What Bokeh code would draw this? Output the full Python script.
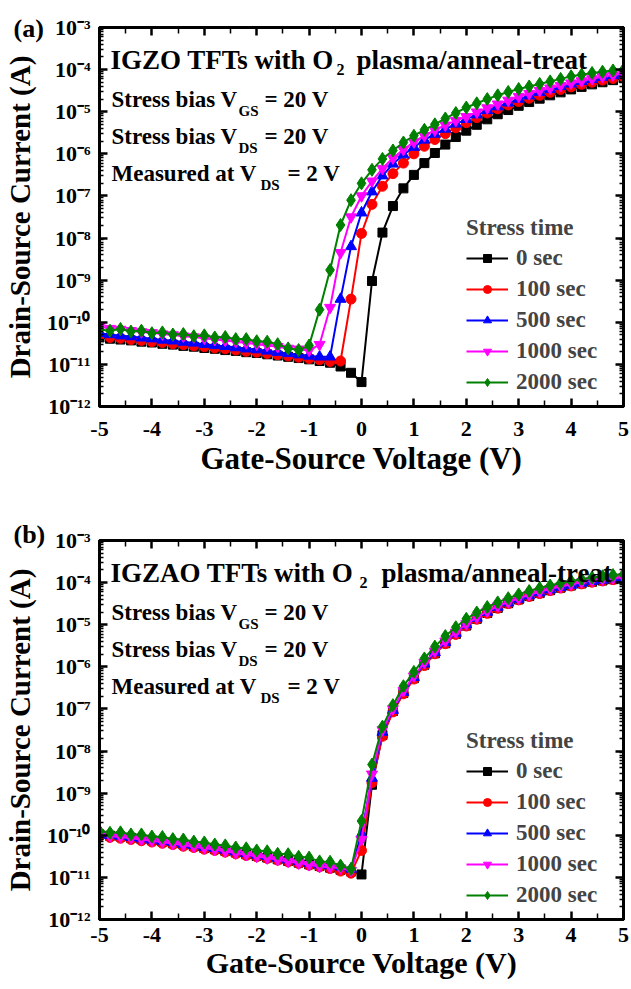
from bokeh.plotting import figure
from bokeh.models import (FixedTicker, LinearAxis, LogAxis, Label, Legend, LegendItem, Range1d,
                          CustomJSTickFormatter)
from bokeh.layouts import column
from bokeh.embed import file_html
from bokeh.resources import INLINE

# ---------------- data ----------------
VGS = [-5.0, -4.8, -4.6, -4.4, -4.2, -4.0, -3.8, -3.6, -3.4, -3.2,
       -3.0, -2.8, -2.6, -2.4, -2.2, -2.0, -1.8, -1.6, -1.4, -1.2,
       -1.0, -0.8, -0.6, -0.4, -0.2, 0.0, 0.2, 0.4, 0.6, 0.8,
       1.0, 1.2, 1.4, 1.6, 1.8, 2.0, 2.2, 2.4, 2.6, 2.8,
       3.0, 3.2, 3.4, 3.6, 3.8, 4.0, 4.2, 4.4, 4.6, 4.8, 5.0]

SERIES_LABELS = ["0 sec", "100 sec", "500 sec", "1000 sec", "2000 sec"]

# (a) IGZO, log10 of drain-source current (A)
igzo_0 = [-10.36, -10.39, -10.41, -10.43, -10.46, -10.48, -10.51, -10.53, -10.56, -10.58,
          -10.61, -10.63, -10.66, -10.68, -10.71, -10.73, -10.76, -10.79, -10.82, -10.85,
          -10.88, -10.92, -10.96, -11.05, -11.20, -11.42, -9.02, -7.87, -7.24, -6.82,
          -6.50, -6.22, -5.98, -5.78, -5.60, -5.45, -5.31, -5.18, -5.06, -4.96,
          -4.86, -4.77, -4.69, -4.61, -4.54, -4.47, -4.41, -4.35, -4.30, -4.25, -4.20]
igzo_100 = [-10.32, -10.36, -10.38, -10.41, -10.43, -10.46, -10.48, -10.51, -10.53, -10.56,
            -10.58, -10.61, -10.63, -10.66, -10.69, -10.71, -10.74, -10.77, -10.80, -10.83,
            -10.86, -10.89, -10.93, -10.92, -9.45, -7.89, -7.20, -6.77, -6.47, -6.22,
            -6.00, -5.82, -5.66, -5.52, -5.38, -5.26, -5.14, -5.03, -4.93, -4.84,
            -4.76, -4.68, -4.61, -4.54, -4.47, -4.41, -4.35, -4.30, -4.25, -4.21, -4.17]
igzo_500 = [-10.26, -10.29, -10.32, -10.34, -10.37, -10.39, -10.42, -10.44, -10.47, -10.49,
            -10.52, -10.55, -10.57, -10.60, -10.63, -10.65, -10.68, -10.71, -10.74, -10.77,
            -10.80, -10.82, -10.82, -9.45, -8.20, -7.40, -6.90, -6.52, -6.24, -6.02,
            -5.84, -5.67, -5.53, -5.41, -5.29, -5.18, -5.07, -4.97, -4.88, -4.79,
            -4.70, -4.62, -4.54, -4.47, -4.40, -4.34, -4.28, -4.23, -4.18, -4.14, -4.10]
igzo_1000 = [-10.10, -10.15, -10.17, -10.20, -10.23, -10.25, -10.28, -10.30, -10.33, -10.35,
             -10.38, -10.41, -10.43, -10.46, -10.49, -10.52, -10.55, -10.58, -10.62, -10.64,
             -10.67, -10.53, -9.65, -8.35, -7.50, -7.00, -6.65, -6.35, -6.10, -5.90,
             -5.72, -5.57, -5.44, -5.32, -5.21, -5.12, -5.01, -4.91, -4.82, -4.73,
             -4.64, -4.57, -4.50, -4.44, -4.38, -4.32, -4.27, -4.22, -4.17, -4.13, -4.09]
igzo_2000 = [-10.17, -10.20, -10.16, -10.22, -10.20, -10.26, -10.24, -10.29, -10.28, -10.33,
             -10.31, -10.36, -10.35, -10.40, -10.40, -10.45, -10.46, -10.52, -10.62, -10.66,
             -10.55, -9.70, -8.76, -7.69, -7.10, -6.70, -6.38, -6.12, -5.92, -5.73,
             -5.57, -5.43, -5.30, -5.16, -5.03, -4.90, -4.80, -4.70, -4.61, -4.53,
             -4.46, -4.40, -4.34, -4.28, -4.22, -4.16, -4.12, -4.08, -4.05, -4.02, -4.00]

# (b) IGZAO, log10 of drain-source current (A)
igzao_0 = [-9.98, -10.01, -10.03, -10.06, -10.09, -10.12, -10.15, -10.19, -10.22, -10.26,
           -10.30, -10.33, -10.37, -10.41, -10.45, -10.49, -10.53, -10.57, -10.61, -10.65,
           -10.69, -10.73, -10.77, -10.82, -10.86, -10.93, -8.80, -7.62, -7.05, -6.62,
           -6.27, -5.95, -5.68, -5.44, -5.22, -5.02, -4.86, -4.72, -4.60, -4.49,
           -4.40, -4.32, -4.25, -4.18, -4.12, -4.07, -4.02, -3.98, -3.95, -3.92, -3.90]
igzao_100 = [-10.02, -10.05, -10.07, -10.10, -10.13, -10.16, -10.19, -10.22, -10.26, -10.29,
             -10.33, -10.36, -10.40, -10.44, -10.48, -10.51, -10.55, -10.59, -10.63, -10.67,
             -10.71, -10.75, -10.79, -10.85, -10.90, -10.36, -8.75, -7.65, -7.07, -6.64,
             -6.29, -5.97, -5.69, -5.45, -5.23, -5.03, -4.87, -4.73, -4.61, -4.50,
             -4.41, -4.33, -4.26, -4.19, -4.13, -4.08, -4.03, -3.99, -3.96, -3.93, -3.91]
igzao_500 = [-9.97, -10.00, -10.02, -10.05, -10.08, -10.11, -10.14, -10.17, -10.21, -10.24,
             -10.28, -10.31, -10.35, -10.39, -10.43, -10.47, -10.50, -10.54, -10.58, -10.62,
             -10.66, -10.70, -10.72, -10.75, -10.80, -9.97, -8.64, -7.55, -7.03, -6.60,
             -6.25, -5.93, -5.66, -5.42, -5.20, -5.00, -4.84, -4.70, -4.58, -4.48,
             -4.39, -4.31, -4.24, -4.17, -4.11, -4.06, -4.01, -3.97, -3.94, -3.91, -3.89]
igzao_1000 = [-9.99, -10.02, -10.04, -10.07, -10.10, -10.13, -10.16, -10.20, -10.23, -10.27,
              -10.30, -10.34, -10.38, -10.42, -10.46, -10.50, -10.54, -10.58, -10.62, -10.66,
              -10.70, -10.74, -10.76, -10.78, -10.84, -10.10, -8.55, -7.50, -7.00, -6.57,
              -6.22, -5.90, -5.63, -5.39, -5.18, -4.98, -4.82, -4.68, -4.56, -4.46,
              -4.37, -4.29, -4.22, -4.15, -4.09, -4.04, -3.99, -3.95, -3.92, -3.89, -3.87]
igzao_2000 = [-9.90, -9.94, -9.93, -9.98, -9.98, -10.03, -10.04, -10.09, -10.10, -10.15,
              -10.17, -10.22, -10.24, -10.29, -10.31, -10.36, -10.38, -10.44, -10.45, -10.51,
              -10.53, -10.62, -10.63, -10.72, -10.80, -9.66, -8.32, -7.42, -6.91, -6.46,
              -6.12, -5.80, -5.52, -5.27, -5.06, -4.86, -4.71, -4.58, -4.47, -4.37,
              -4.28, -4.20, -4.13, -4.07, -4.01, -3.96, -3.92, -3.88, -3.85, -3.82, -3.80]

X_TICKS = [-5, -4, -3, -2, -1, 0, 1, 2, 3, 4, 5]
X_TICK_LABELS = ["-5", "-4", "-3", "-2", "-1", "0", "1", "2", "3", "4", "5"]
X_MINOR = [-4.5, -3.5, -2.5, -1.5, -0.5, 0.5, 1.5, 2.5, 3.5, 4.5]
Y_TICKS = [1e-12, 1e-11, 1e-10, 1e-9, 1e-8, 1e-7, 1e-6, 1e-5, 1e-4, 1e-3]
Y_TICK_LABELS = ["10\u207b\u00b9\u00b2", "10\u207b\u00b9\u00b9", "10\u207b\u00b9\u2070",
                 "10\u207b\u2079", "10\u207b\u2078", "10\u207b\u2077", "10\u207b\u2076",
                 "10\u207b\u2075", "10\u207b\u2074", "10\u207b\u00b3"]
Y_MINOR = [m * t for t in Y_TICKS[:-1] for m in (2, 3, 4, 5, 6, 7, 8, 9)]

COLORS = ["#000000", "#ff0000", "#0000ff", "#ff00ff", "#008000"]
MARKERS = ["square", "circle", "triangle", "inverted_triangle", "diamond"]
MSIZES = [9, 10, 11, 11, 13]

FONT = "Liberation Serif"
FW, FH = 524, 379


def style_axis(ax, show_labels=True):
    ax.axis_line_width = 3
    ax.axis_line_color = "black"
    ax.major_tick_in = 8
    ax.major_tick_out = 0
    ax.major_tick_line_width = 2.5
    ax.minor_tick_in = 4
    ax.minor_tick_out = 0
    ax.minor_tick_line_width = 1.5
    ax.major_label_text_font = FONT
    ax.major_label_text_font_style = "bold"
    ax.major_label_text_color = "black"
    ax.axis_label_text_font = FONT
    ax.axis_label_text_font_style = "bold"
    ax.axis_label_text_color = "black"
    if show_labels:
        ax.major_label_text_font_size = "22px"
    else:
        ax.formatter = CustomJSTickFormatter(code="return ''")
        ax.major_label_text_font_size = "1px"
        ax.major_label_standoff = 0


def make_panel(logs, title_parts, tag, tag_standoff, border_bottom,
               tick_standoff, xlab_standoff, xlab_size):
    p = figure(x_range=Range1d(-5, 5), y_range=Range1d(1e-12, 1e-3), y_axis_type="log",
               frame_width=FW, frame_height=FH,
               min_border_left=99, min_border_right=6,
               min_border_top=27, min_border_bottom=border_bottom,
               output_backend="svg", toolbar_location=None,
               x_axis_label="Gate-Source Voltage (V)",
               y_axis_label="Drain-Source Current (A)")
    p.grid.visible = False
    p.outline_line_color = "black"
    p.outline_line_width = 3
    p.background_fill_color = "white"
    p.border_fill_color = "white"

    # panel tag "(a)" / "(b)" drawn as the plot title, pulled left of the frame
    p.title.text = tag
    p.title.align = "left"
    p.title.offset = -86
    p.title.standoff = tag_standoff
    p.title.text_font = FONT
    p.title.text_font_style = "bold"
    p.title.text_font_size = "26px"
    p.title.text_color = "black"

    xt = FixedTicker(ticks=X_TICKS, minor_ticks=X_MINOR)
    yt = FixedTicker(ticks=Y_TICKS, minor_ticks=Y_MINOR)

    xa = p.xaxis[0]
    xa.ticker = xt
    xa.major_label_overrides = {float(t): s for t, s in zip(X_TICKS, X_TICK_LABELS)}
    style_axis(xa)
    xa.minor_tick_in = 6
    xa.major_label_standoff = tick_standoff
    xa.axis_label_standoff = xlab_standoff
    xa.axis_label_text_font_size = xlab_size

    ya = p.yaxis[0]
    ya.ticker = yt
    ya.major_label_overrides = {t: s for t, s in zip(Y_TICKS, Y_TICK_LABELS)}
    style_axis(ya)
    ya.major_label_standoff = 9
    ya.axis_label_standoff = 8
    ya.axis_label_text_font_size = "29px"

    top = LinearAxis(ticker=xt)
    style_axis(top, False)
    top.minor_tick_in = 6
    p.add_layout(top, "above")
    right = LogAxis(ticker=yt)
    style_axis(right, False)
    p.add_layout(right, "right")

    items = []
    for lg, lab_, col, mk, ms in zip(logs, SERIES_LABELS, COLORS, MARKERS, MSIZES):
        ys = [10 ** v for v in lg]
        r1 = p.line(VGS, ys, line_color=col, line_width=2)
        r2 = p.scatter(VGS, ys, marker=mk, size=ms, fill_color=col, line_color=col)
        items.append(LegendItem(label=lab_, renderers=[r1, r2]))

    leg = Legend(items=items, location=(367, 11), title="Stress time",
                 title_text_font=FONT, title_text_font_style="bold", title_text_font_size="23px",
                 title_standoff=4,
                 label_text_font=FONT, label_text_font_style="bold", label_text_font_size="23px",
                 glyph_width=42, glyph_height=20, label_standoff=8, spacing=5, label_height=24,
                 padding=0, margin=0, background_fill_alpha=0, border_line_alpha=0)
    p.add_layout(leg)

    def lab(text, x, dy, size):
        p.add_layout(Label(x=x, y=FH - dy, x_units="screen", y_units="screen", text=text,
                           text_font=FONT, text_font_style="bold", text_font_size=size,
                           text_color="black", text_baseline="alphabetic", text_align="left"))

    t1, t2, x2, x3 = title_parts
    lab(t1, 11, 32.5, "27px")
    lab("2", x2, 41.5, "16px")
    lab(t2, x3, 32.5, "27px")
    lab("Stress bias V", 12, 71.5, "23px")
    lab("GS", 139, 83.5, "15px")
    lab("= 20 V", 165, 71.5, "23px")
    lab("Stress bias V", 12, 108.5, "23px")
    lab("DS", 139, 120.5, "15px")
    lab("= 20 V", 165, 108.5, "23px")
    lab("Measured at V", 12, 145.5, "23px")
    lab("DS", 161, 157, "15px")
    lab("= 2 V", 188, 145.5, "23px")
    return p


p1 = make_panel([igzo_0, igzo_100, igzo_500, igzo_1000, igzo_2000],
                ("IGZO TFTs with O", "plasma/anneal-treat", 237, 257), "(a)", -30, 107,
                15, 2, "31px")
p2 = make_panel([igzao_0, igzao_100, igzao_500, igzao_1000, igzao_2000],
                ("IGZAO TFTs with O", "plasma/anneal-treat", 260, 282), "(b)", -16, 69,
                8, 1, "30px")

layout = column(p1, p2, spacing=0)
open("out.html", "w").write(file_html(layout, INLINE))
